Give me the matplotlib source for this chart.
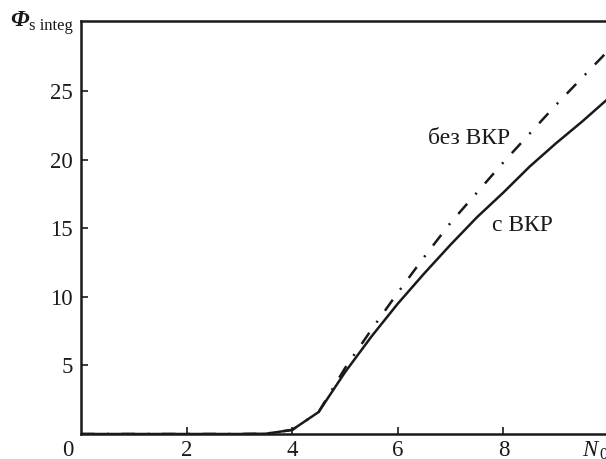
import matplotlib
matplotlib.use("Agg")
import matplotlib.pyplot as plt

# Data
n0 = [0, 0.5, 1, 1.5, 2, 2.5, 3, 3.5, 4, 4.5, 5, 5.5, 6, 6.5, 7, 7.5, 8, 8.5, 9, 9.5, 10]
phi_with_srs = [0, 0, 0, 0, 0, 0, 0, 0.02, 0.3, 1.6, 4.5, 7.1, 9.5, 11.7, 13.8, 15.8, 17.6, 19.5, 21.2, 22.8, 24.5]
phi_without_srs = [0, 0, 0, 0, 0, 0, 0, 0.02, 0.3, 1.6, 4.8, 7.6, 10.3, 12.9, 15.4, 17.6, 19.8, 21.9, 24.0, 26.0, 28.0]
xtick_vals = [2, 4, 6, 8]
ytick_vals = [5, 10, 15, 20, 25]
label_with = "с ВКР"
label_without = "без ВКР"

W, H = 606, 459
plt.rcParams['font.family'] = ['Liberation Serif', 'DejaVu Serif']
fig = plt.figure(figsize=(W / 100, H / 100), dpi=100)
ax = fig.add_axes([81 / W, 1 - 434 / H, (W - 81) / W, (434 - 21) / H])

ink = '#1a1a1a'
ax.plot(n0, phi_without_srs, color=ink, lw=1.8, dashes=(5.4, 5, 0.8, 5))
ax.plot(n0, phi_with_srs, color=ink, lw=1.8)

ax.set_xlim(0, (W - 81) / 52.8)
ax.set_ylim(0, 30.1)

for s in ['left', 'bottom', 'top']:
    ax.spines[s].set_linewidth(1.8)
    ax.spines[s].set_color(ink)
ax.spines['right'].set_visible(False)

ax.set_xticks(xtick_vals)
ax.set_xticklabels([str(v) for v in xtick_vals])
ax.set_yticks(ytick_vals)
ax.set_yticklabels([str(v) for v in ytick_vals])
ax.tick_params(axis='both', direction='in', length=5, width=1.2, color=ink,
               labelsize=16.5, labelcolor=ink)
ax.tick_params(axis='y', pad=6)
ax.tick_params(axis='x', pad=4)

# "0" label at origin, slightly left of the spine
fig.text(68 / W, 1 - 451 / H, "0", ha='center', va='center', fontsize=16.5, color=ink)
# axis label N0 at right end (cut by the figure edge as in the reference)
fig.text(582 / W, 1 - 451 / H, "N", ha='left', va='center', fontsize=16.5, color=ink,
         fontstyle='italic')
fig.text(599 / W, 1 - 455 / H, "0", ha='left', va='center', fontsize=12, color=ink)

# y-axis label
fig.text(10 / W, 1 - 20 / H, "Φ", ha='left', va='center', fontsize=17, color=ink,
         fontstyle='italic', fontweight='bold')
fig.text(29 / W, 1 - 26 / H, "s integ", ha='left', va='center', fontsize=12, color=ink)

ax.annotate(label_without, xy=(469 / W, 1 - 138 / H), xycoords='figure fraction',
            ha='center', va='center', fontsize=17, color=ink)
ax.annotate(label_with, xy=(522 / W, 1 - 225 / H), xycoords='figure fraction',
            ha='center', va='center', fontsize=17, color=ink)

fig.savefig("out.png", dpi=100)
